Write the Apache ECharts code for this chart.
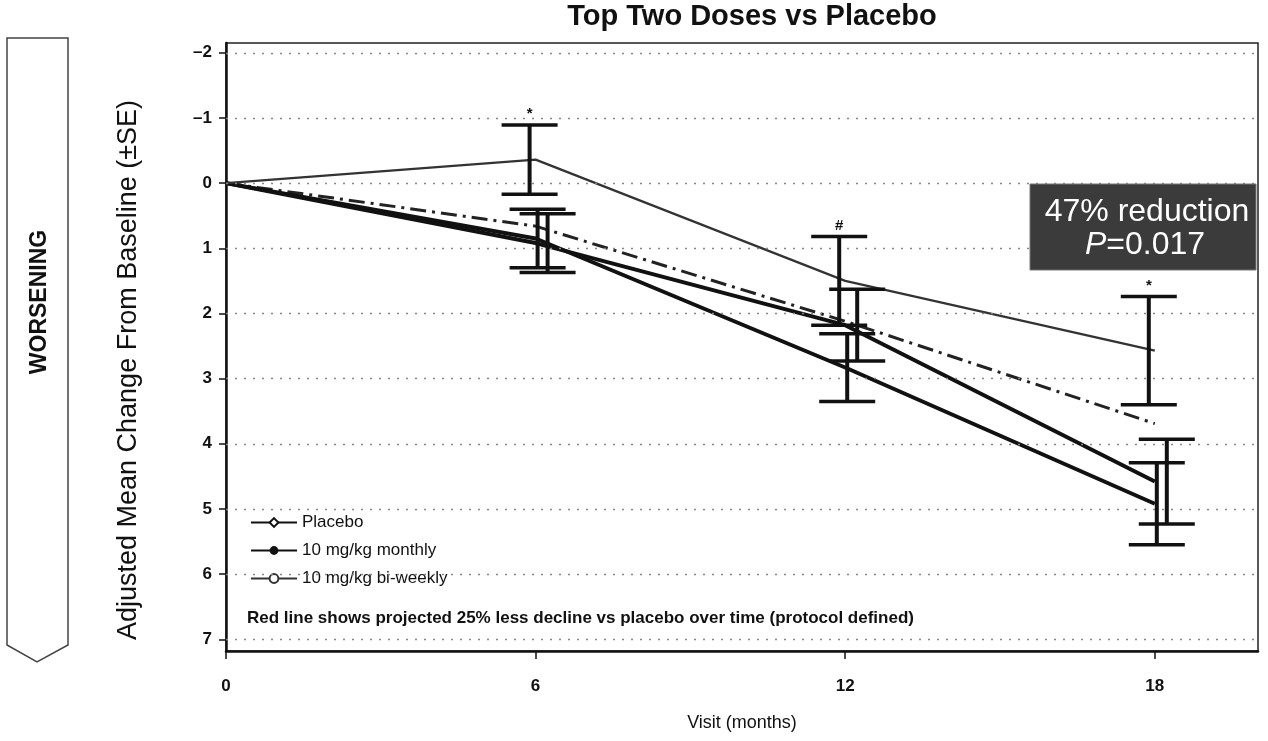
<!DOCTYPE html>
<html>
<head>
<meta charset="utf-8">
<script src="https://cdn.jsdelivr.net/npm/echarts@6/dist/echarts.min.js"></script>
<style>
html,body{margin:0;padding:0;background:#fff;}
#chart{width:1268px;height:741px;}
</style>
</head>
<body>
<div id="chart"></div>
<script>
// ---- data ----
const months = [0, 6, 12, 18];
const placebo = [0, 0.85, 2.83, 4.92];
const placeboSE = [0, 0.45, 0.52, 0.63];
const monthly = [0, 0.92, 2.18, 4.58];
const monthlySE = [0, 0.45, 0.55, 0.65];
const biweekly = [0, -0.36, 1.50, 2.57];
const biweeklySE = [0, 0.53, 0.68, 0.83];
const projected = [0, 0.66, 2.12, 3.69];
const sigMarks = ['', '*', '#', '*'];
const xTicks = [0, 6, 12, 18];
const yTicks = [-2, -1, 0, 1, 2, 3, 4, 5, 6, 7];

const FONT = '"Liberation Sans", Arial, sans-serif';

function pairs(xs, ys) { return xs.map((x, i) => [x, ys[i]]); }
function errData(xs, ys, se, marks) {
  const out = [];
  xs.forEach((x, i) => { if (se[i] > 0) out.push([x, ys[i], se[i], marks ? marks[i] : '']); });
  return out;
}
function errRender(dx) {
  return function (params, api) {
    const x = api.value(0), m = api.value(1), se = api.value(2);
    const mark = api.value(3);
    const top = api.coord([x, m - se]);
    const bot = api.coord([x, m + se]);
    const cx = top[0] + dx;
    const half = 28;
    const children = [
      { type: 'line', shape: { x1: cx, y1: top[1], x2: cx, y2: bot[1] }, style: { stroke: '#111', lineWidth: 4 } },
      { type: 'line', shape: { x1: cx - half, y1: top[1], x2: cx + half, y2: top[1] }, style: { stroke: '#111', lineWidth: 3.5 } },
      { type: 'line', shape: { x1: cx - half, y1: bot[1], x2: cx + half, y2: bot[1] }, style: { stroke: '#111', lineWidth: 3.5 } }
    ];
    if (mark && mark !== '') {
      children.push({ type: 'text', style: { text: mark, x: cx, y: top[1] - 11, align: 'center', verticalAlign: 'middle', fill: '#111', font: 'bold 15px ' + FONT } });
    }
    return { type: 'group', children: children };
  };
}

const chart = echarts.init(document.getElementById('chart'), null, { renderer: 'canvas' });

const option = {
  backgroundColor: '#fff',
  animation: false,
  grid: { left: 226, right: 10, top: 43, bottom: 90, show: true, borderColor: '#222', borderWidth: 1.5, backgroundColor: 'transparent' },
  xAxis: {
    type: 'value', min: 0, max: 20,
    axisLine: { show: true, onZero: false, lineStyle: { color: '#111', width: 2.5 } },
    axisTick: { show: true, customValues: xTicks, length: 8, lineStyle: { color: '#111', width: 1.5 } },
    axisLabel: { customValues: xTicks, fontSize: 17, fontWeight: 'bold', fontFamily: FONT, color: '#111', margin: 27 },
    splitLine: { show: false }
  },
  yAxis: {
    type: 'value', inverse: true, min: -2.15, max: 7.18,
    axisLine: { show: true, onZero: false, lineStyle: { color: '#111', width: 2.5 } },
    axisTick: { show: true, customValues: yTicks, length: 7, lineStyle: { color: '#111', width: 1.5 } },
    axisLabel: {
      customValues: yTicks, fontSize: 17, fontWeight: 'bold', fontFamily: FONT, color: '#111', margin: 14,
      formatter: v => (v < 0 ? '\u2013' + (-v) : String(v))
    },
    splitLine: { show: false }
  },
  legend: {
    data: ['Placebo', '10 mg/kg monthly', '10 mg/kg bi-weekly'],
    orient: 'vertical', left: 245, top: 509, itemWidth: 46, itemHeight: 11, itemGap: 11,
    textStyle: { fontSize: 17, fontFamily: FONT, color: '#111' }
  },
  series: [
    {
      name: 'projected', type: 'line', data: pairs(months, projected), showSymbol: false, symbol: 'none',
      lineStyle: { color: '#222', width: 3, type: [16, 6, 3, 6] }, z: 3,
      markLine: {
        silent: true, symbol: ['none', 'none'], label: { show: false },
        lineStyle: { type: [2, 7], color: '#888', width: 1.3 },
        data: yTicks.map(v => ({ yAxis: v }))
      }
    },
    {
      name: 'Placebo', type: 'line', data: pairs(months, placebo), showSymbol: false, symbol: 'emptyDiamond', symbolSize: 10,
      itemStyle: { color: '#111', borderColor: '#111' }, lineStyle: { color: '#111', width: 4 }, z: 4
    },
    {
      name: '10 mg/kg monthly', type: 'line', data: pairs(months, monthly), showSymbol: false, symbol: 'circle', symbolSize: 5,
      itemStyle: { color: '#111' }, lineStyle: { color: '#111', width: 4 }, z: 4
    },
    {
      name: '10 mg/kg bi-weekly', type: 'line', data: pairs(months, biweekly), showSymbol: false, symbol: 'emptyCircle', symbolSize: 6,
      itemStyle: { color: '#333' }, lineStyle: { color: '#333', width: 2.2 }, z: 4
    },
    { name: 'errBiweekly', type: 'custom', renderItem: errRender(-6), data: errData(months, biweekly, biweeklySE, sigMarks), z: 5, silent: true,
      encode: { x: 0, y: 1 } },
    { name: 'errPlacebo', type: 'custom', renderItem: errRender(2), data: errData(months, placebo, placeboSE), z: 5, silent: true,
      encode: { x: 0, y: 1 } },
    { name: 'errMonthly', type: 'custom', renderItem: errRender(12), data: errData(months, monthly, monthlySE), z: 5, silent: true,
      encode: { x: 0, y: 1 } }
  ],
  graphic: [
    { type: 'polygon', shape: { points: [[7, 38], [68, 38], [68, 645], [37, 662], [7, 645]] }, style: { fill: '#fff', stroke: '#444', lineWidth: 1.5 } },
    { type: 'text', x: 40, y: 302, rotation: Math.PI / 2, style: { text: 'WORSENING', align: 'center', verticalAlign: 'middle', fill: '#111', font: 'bold 23px ' + FONT } },
    { type: 'text', x: 129, y: 370, rotation: Math.PI / 2, style: { text: 'Adjusted Mean Change From Baseline (\u00b1SE)', align: 'center', verticalAlign: 'middle', fill: '#111', font: '27px ' + FONT } },
    { type: 'text', x: 752, y: 17, style: { text: 'Top Two Doses vs Placebo', align: 'center', verticalAlign: 'middle', fill: '#111', font: 'bold 29px ' + FONT } },
    { type: 'text', x: 742, y: 723, style: { text: 'Visit (months)', align: 'center', verticalAlign: 'middle', fill: '#111', font: '18px ' + FONT } },
    { type: 'text', x: 247, y: 618, style: { text: 'Red line shows projected 25% less decline vs placebo over time (protocol defined)', align: 'left', verticalAlign: 'middle', fill: '#111', font: 'bold 17px ' + FONT } },
    { type: 'rect', shape: { x: 1030, y: 184, width: 226, height: 86 }, style: { fill: '#3b3b3b', stroke: '#777', lineWidth: 1 }, z: 10 },
    { type: 'text', x: 1147, y: 212, z: 11, style: { text: '47% reduction', align: 'center', verticalAlign: 'middle', fill: '#fff', font: '32px ' + FONT } },
    { type: 'text', x: 1145, y: 245, z: 11, style: { text: '{i|P}=0.017', align: 'center', verticalAlign: 'middle', fill: '#fff', font: '32px ' + FONT,
      rich: { i: { fontStyle: 'italic', fontSize: 32, fontFamily: FONT, fill: '#fff' } } } }
  ]
};
chart.setOption(option);
</script>
</body>
</html>
